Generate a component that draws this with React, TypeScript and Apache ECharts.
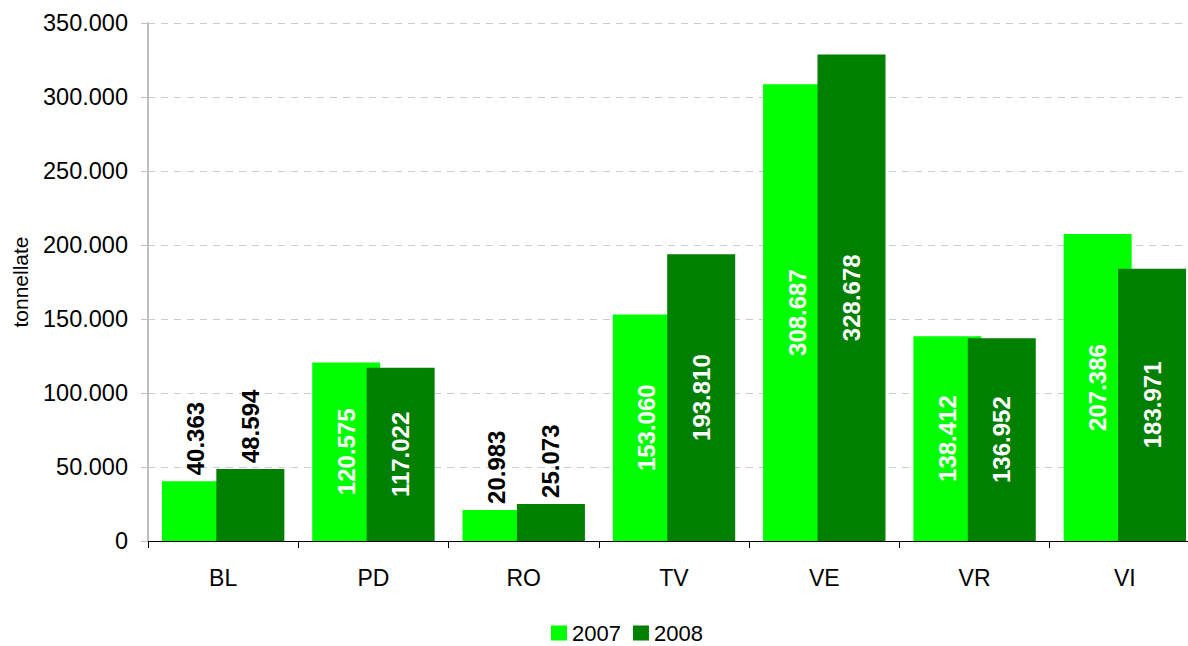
import React, { useEffect, useRef } from "react";
import * as echarts from "echarts";

const categories = ["BL", "PD", "RO", "TV", "VE", "VR", "VI"];
const values2007 = [40363, 120575, 20983, 153060, 308687, 138412, 207386];
const values2008 = [48594, 117022, 25073, 193810, 328678, 136952, 183971];
const outsideLabelCategories = ["BL", "RO"];
const yAxisName = "tonnellate";
const seriesNames = ["2007", "2008"];

const FONT = "'Liberation Sans', Arial, sans-serif";

function fmt(v: number): string {
  return String(Math.round(v)).replace(/\B(?=(\d{3})+(?!\d))/g, ".");
}

function buildData(values: number[]) {
  return values.map((v, i) => {
    const outside = outsideLabelCategories.includes(categories[i]);
    return {
      value: v,
      label: outside
        ? {
            position: "top",
            distance: 6,
            align: "left",
            verticalAlign: "middle",
            color: "#000",
          }
        : {
            position: "inside",
            align: "center",
            verticalAlign: "middle",
            color: "#fff",
          },
    };
  });
}

export default function App() {
  const ref = useRef<HTMLDivElement>(null);
  useEffect(() => {
    if (!ref.current) return;
    const chart = echarts.init(ref.current, undefined, { renderer: "svg" });
    const labelBase = {
      show: true,
      rotate: 90,
      fontSize: 24,
      fontWeight: "bold",
      fontFamily: FONT,
      formatter: (p: any) => fmt(p.value),
    };
    chart.setOption({
      animation: false,
      textStyle: { fontFamily: FONT },
      grid: {
        left: 148,
        top: 23,
        width: 1052,
        height: 518,
        containLabel: false,
        outerBoundsMode: "none",
      },
      legend: {
        data: seriesNames,
        left: 551,
        top: 622,
        itemWidth: 16,
        itemHeight: 15,
        itemGap: 12,
        icon: "rect",
        textStyle: {
          fontSize: 22,
          color: "#000",
          fontFamily: FONT,
          padding: [0, 0, 0, 0],
        },
        padding: 0,
      },
      xAxis: {
        type: "category",
        data: categories,
        axisLine: { lineStyle: { color: "#000", width: 1 } },
        axisTick: { show: true, length: 7, lineStyle: { color: "#000" } },
        axisLabel: { fontSize: 23, color: "#000", margin: 25, fontFamily: FONT },
      },
      yAxis: {
        type: "value",
        min: 0,
        max: 350000,
        interval: 50000,
        name: yAxisName,
        nameLocation: "middle",
        nameGap: 117,
        nameRotate: 90,
        nameTextStyle: { fontSize: 21, color: "#000", fontFamily: FONT },
        axisLine: { show: true, lineStyle: { color: "#bfbfbf", width: 2 } },
        axisTick: { show: true, length: 7, lineStyle: { color: "#bfbfbf" } },
        axisLabel: {
          fontSize: 23.5,
          color: "#000",
          margin: 20,
          fontFamily: FONT,
          formatter: (v: number) => fmt(v),
        },
        splitLine: {
          show: true,
          lineStyle: { color: "#cccccc", type: [7, 6], width: 1 },
        },
      },
      series: [
        {
          name: seriesNames[0],
          type: "bar",
          data: buildData(values2007),
          barWidth: 68,
          barGap: "-20%",
          itemStyle: { color: "#00ff00" },
          label: labelBase,
        },
        {
          name: seriesNames[1],
          type: "bar",
          data: buildData(values2008),
          barWidth: 68,
          itemStyle: { color: "#007f00" },
          label: labelBase,
        },
      ],
    });
    return () => chart.dispose();
  }, []);
  return (
    <div style={{ position: "absolute", left: 0, top: 0, width: 1188, height: 646, overflow: "hidden", background: "#fff" }}>
      <div ref={ref} style={{ width: 1230, height: 646 }} />
    </div>
  );
}
